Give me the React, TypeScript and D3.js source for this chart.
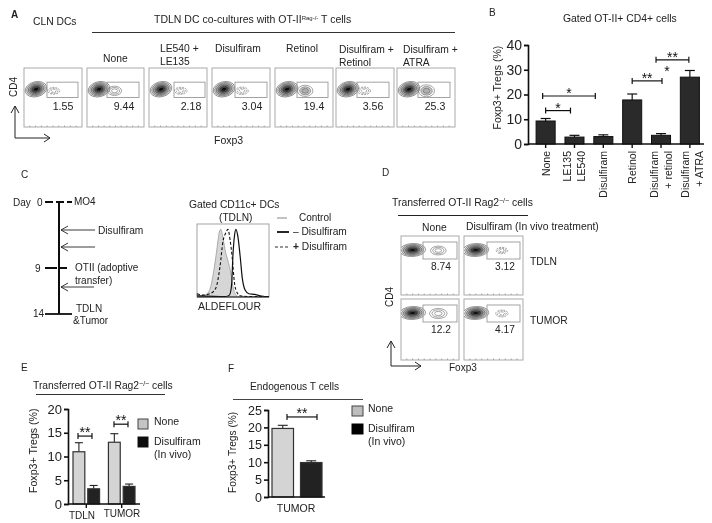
import React, { useEffect, useRef } from "react";
import * as d3 from "d3";

const FONT = "'Liberation Sans', Arial, sans-serif";
const INK = "#222";

// Panel A
const aTitles = [["CLN DCs"], ["None"], ["LE540 +", "LE135"], ["Disulfiram"], ["Retinol"], ["Disulfiram +", "Retinol"], ["Disulfiram +", "ATRA"]];
const aValues = ["1.55", "9.44", "2.18", "3.04", "19.4", "3.56", "25.3"];
const aPercent = [1.55, 9.44, 2.18, 3.04, 19.4, 3.56, 25.3];

// Panel B
const bCategories = [["None"], ["LE135", "LE540"], ["Disulfiram"], ["Retinol"], ["Disulfiram", "+ retinol"], ["Disulfiram", "+ ATRA"]];
const bValues = [9.3, 2.8, 3.0, 17.8, 3.5, 27.0];
const bUpper = [10.3, 3.5, 3.7, 20.2, 4.2, 29.7];

// Panel C histogram: [fluorescence, count]
const cControl = [[0, 4], [3, 1], [10, 2], [15, 5], [19, 14], [24, 42], [28, 72], [31, 94], [33, 98], [36, 86], [39, 68], [43, 52], [47, 34], [50, 14], [53, 4], [57, 0], [100, 0]];
const cMinus = [[0, 1], [40, 0], [45, 2], [48, 16], [50, 62], [52, 88], [54, 98], [57, 86], [60, 58], [63, 26], [67, 9], [72, 4], [80, 3], [88, 1], [94, 0], [100, 0]];
const cPlus = [[0, 4], [8, 2], [18, 4], [26, 12], [32, 44], [36, 80], [40, 93], [43, 98], [46, 82], [49, 56], [52, 20], [56, 5], [60, 1], [70, 0], [100, 0]];

// Panel D
const dValues = [["8.74", "3.12"], ["12.2", "4.17"]];
const dPercent = [[8.74, 3.12], [12.2, 4.17]];
const dColumns = ["None", "Disulfiram (In vivo treatment)"];
const dRows = ["TDLN", "TUMOR"];

// Panel E
const eGroups = ["TDLN", "TUMOR"];
const eNone = [11.0, 13.0];
const eNoneUpper = [12.9, 14.8];
const eDisulfiram = [3.2, 3.7];
const eDisulfiramUpper = [3.9, 4.2];

// Panel F
const fValues = [19.7, 9.9];
const fUpper = [20.6, 10.4];

function Txt({ x, y, size = 10.5, anchor = "start", rotate, fill = INK, weight, children }: any) {
  return (
    <text x={x} y={y} fontSize={size} textAnchor={anchor} fill={fill} fontWeight={weight} fontFamily={FONT}
      transform={rotate !== undefined ? `rotate(${rotate} ${x} ${y})` : undefined}>{children}</text>
  );
}

function YAxis({ scale, x, values, size }: any) {
  const ref = useRef<SVGGElement>(null);
  useEffect(() => {
    const g = d3.select(ref.current!);
    g.call(d3.axisLeft(scale).tickValues(values).tickSize(4).tickPadding(2) as any);
    g.selectAll("path,line").attr("stroke", "#111").attr("stroke-width", 1.6);
    g.selectAll("text").attr("font-size", size).attr("font-family", FONT).attr("fill", INK);
  }, []);
  return <g ref={ref} transform={`translate(${x},0)`} />;
}

function Bracket({ x1, x2, y, stars, starDy = -1, cap = 3 }: any) {
  return (
    <g stroke="#111" strokeWidth={1.2}>
      <line x1={x1} x2={x2} y1={y} y2={y} />
      <line x1={x1} x2={x1} y1={y - cap} y2={y + cap} />
      <line x1={x2} x2={x2} y1={y - cap} y2={y + cap} />
      <text x={(x1 + x2) / 2} y={y + starDy + 3} stroke="none" fill="#111" fontSize={14} textAnchor="middle" fontFamily={FONT}>{stars}</text>
    </g>
  );
}

function Arrows({ x, top, bottom, right }: any) {
  return (
    <g fill="none" stroke="#222" strokeWidth={1}>
      <polyline points={`${x},${top} ${x},${bottom} ${right},${bottom}`} />
      <polyline points={`${x - 4},${top + 7} ${x},${top} ${x + 4},${top + 7}`} />
      <polyline points={`${right - 6},${bottom - 4} ${right},${bottom} ${right - 6},${bottom + 4}`} />
    </g>
  );
}

const ringSizes = [1, 0.86, 0.72, 0.56, 0.4, 0.24];
const ringFills = ["#fff", "#d8d8d8", "#a8a8a8", "#777", "#3a3a3a", "#111"];

function FlowPlot({ box, gate, main, percent, label, labelPos, labelSize = 10.6, mainRx, mainRy, tilt = -14, cloudCentered = false, id }: any) {
  const [x0, y0, x1, y1] = box;
  const sx = d3.scaleLinear().domain([0, 1]).range([x0, x1]);
  const sy = d3.scaleLinear().domain([0, 1]).range([y0, y1]);
  const gx = sx(gate[0]), gx2 = sx(gate[1]), gy = sy(gate[2]), gy2 = sy(gate[3]);
  const root = Math.sqrt(percent);
  const crx = cloudCentered ? 2.5 + 1.8 * root : 5.5 + 0.5 * root;
  const cry = cloudCentered ? 1.2 + 1.1 * root : 2.5 + 0.7 * root;
  const cx = cloudCentered ? gx + (gx2 - gx) * 0.45 : gx + crx + 0.5;
  const cy = (gy + gy2) / 2 + (cloudCentered ? 0 : 1);
  const mcx = sx(main[0]), mcy = sy(main[1]);
  return (
    <g>
      <clipPath id={id}><rect x={x0} y={y0} width={x1 - x0} height={y1 - y0} /></clipPath>
      <rect x={x0} y={y0} width={x1 - x0} height={y1 - y0} fill="#fff" stroke="#aaa" strokeWidth={1} />
      {d3.range(0.1, 1, 0.1).map((t, i) => (
        <line key={i} x1={sx(t)} x2={sx(t)} y1={y1} y2={y1 - 1.5} stroke="#888" strokeWidth={0.7} />
      ))}
      <g clipPath={`url(#${id})`}>
        {ringSizes.map((r, i) => (
          <ellipse key={i} cx={mcx} cy={mcy} rx={mainRx * r} ry={mainRy * r}
            transform={`rotate(${tilt} ${mcx} ${mcy})`} fill={ringFills[i]} stroke="#555" strokeWidth={0.6} />
        ))}
      </g>
      <rect x={gx} y={gy} width={gx2 - gx} height={gy2 - gy} fill="none" stroke="#999" strokeWidth={0.9} />
      {[1, 0.72, 0.42].map((r, i) => (
        <ellipse key={i} cx={cx} cy={cy} rx={crx * r} ry={cry * r} fill={percent > 15 && i > 0 ? "#999" : "none"} fillOpacity={0.55}
          stroke="#666" strokeWidth={0.6} strokeDasharray={percent < 5 ? "2 1" : undefined} />
      ))}
      <Txt x={sx(labelPos[0])} y={sy(labelPos[1])} size={labelSize} anchor="middle">{label}</Txt>
    </g>
  );
}

function PanelA() {
  const boxes = [[24, 82], [87, 144], [149, 207], [212, 270], [275, 333], [336, 394], [397, 455]];
  const gates = [[47, 78], [107, 139], [174, 205], [235, 267], [297, 328], [357, 389], [418, 450]];
  const titleX = [33, 103, 160, 215, 286, 339, 403];
  const titleY = [[24], [62], [52, 65], [52], [52], [53, 66], [53, 66]];
  const labelX = [63, 124, 191, 252, 314, 373, 435];
  return (
    <g>
      <Txt x={11} y={18} size={10} weight="bold">A</Txt>
      <Txt x={33} y={25} size={10.3}>{aTitles[0][0]}</Txt>
      <Txt x={154} y={23} size={10.5}>TDLN DC co-cultures with OT-II<tspan fontSize={6} dy={-3}>Rag-/-</tspan><tspan dy={3}> T cells</tspan></Txt>
      <line x1={92} x2={455} y1={32.5} y2={32.5} stroke="#333" strokeWidth={1.2} />
      {aValues.map((v, i) => {
        const [x0, x1] = boxes[i];
        const w = x1 - x0;
        return (
          <g key={i}>
            {i > 0 && aTitles[i].map((t, j) => <Txt key={j} x={titleX[i]} y={titleY[i][j]} size={10.3}>{t}</Txt>)}
            <FlowPlot id={`a${i}`} box={[x0, 68, x1, 127]} gate={[(gates[i][0] - x0) / w, (gates[i][1] - x0) / w, 0.24, 0.5]}
              main={[(x0 + 12 - x0) / w, 0.36]} mainRx={11} mainRy={7.5} percent={aPercent[i]}
              label={v} labelPos={[(labelX[i] - x0) / w, 0.72]} />
          </g>
        );
      })}
      <Txt x={17} y={97} size={10} rotate={-90}>CD4</Txt>
      <Arrows x={15} top={106} bottom={138} right={50} />
      <Txt x={214} y={144} size={10.5}>Foxp3</Txt>
    </g>
  );
}

function PanelB() {
  const x = d3.scaleBand().domain(bValues.map((_, i) => String(i))).range([531.5, 704]).paddingInner(0.34).paddingOuter(0.16);
  const y = d3.scaleLinear().domain([0, 40]).range([144, 45]);
  const cx = (i: number) => x(String(i))! + x.bandwidth() / 2;
  return (
    <g>
      <Txt x={489} y={16} size={10}>B</Txt>
      <Txt x={563} y={22} size={10.4}>Gated OT-II+ CD4+ cells</Txt>
      <Txt x={501} y={129.5} size={10.5} rotate={-90}>Foxp3+ Tregs (%)</Txt>
      {bValues.map((v, i) => (
        <g key={i}>
          <line x1={cx(i)} x2={cx(i)} y1={y(v)} y2={y(bUpper[i])} stroke="#111" strokeWidth={1.2} />
          <line x1={cx(i) - 5} x2={cx(i) + 5} y1={y(bUpper[i])} y2={y(bUpper[i])} stroke="#111" strokeWidth={1.2} />
          <rect x={x(String(i))} y={y(v)} width={x.bandwidth()} height={y(0) - y(v)} fill="#2a2a2a" stroke="#111" />
          <line x1={cx(i)} x2={cx(i)} y1={144} y2={148} stroke="#111" strokeWidth={1.4} />
        </g>
      ))}
      <line x1={528} x2={704} y1={144} y2={144} stroke="#111" strokeWidth={1.6} />
      <YAxis scale={y} x={528} values={[0, 10, 20, 30, 40]} size={14} />
      {bCategories.map((c, i) => (
        <g key={i}>
          {c.map((t, j) => {
            const px = cx(i) + 4 + (c.length === 2 ? (j === 0 ? -7 : 7) : 0) + (i === 5 ? 2 : 0);
            return <Txt key={j} x={px} y={151} size={10.5} anchor="end" rotate={-90}>{t}</Txt>;
          })}
        </g>
      ))}
      <Bracket x1={cx(0) - 3} x2={cx(2) - 8} y={y(19.4)} stars="*" />
      <Bracket x1={cx(0)} x2={cx(1) - 4} y={y(13.5)} stars="*" />
      <Bracket x1={cx(3)} x2={cx(4) + 1} y={y(25.5)} stars="**" />
      <Bracket x1={cx(4) - 5} x2={cx(5) - 1} y={y(34)} stars="**" />
      <text x={667} y={76} fontSize={14} textAnchor="middle" fontFamily={FONT} fill="#111">*</text>
    </g>
  );
}

function PanelC() {
  const x = d3.scaleLinear().domain([0, 100]).range([197, 269]);
  const y = d3.scaleLinear().domain([0, 100]).range([296.5, 228]);
  const line = d3.line<number[]>().x(d => x(d[0])).y(d => y(d[1])).curve(d3.curveMonotoneX);
  const area = d3.area<number[]>().x(d => x(d[0])).y0(y(0)).y1(d => y(d[1])).curve(d3.curveMonotoneX);
  return (
    <g>
      <Txt x={21} y={178} size={10}>C</Txt>
      <line x1={59} x2={59} y1={202} y2={314} stroke="#111" strokeWidth={2} />
      <line x1={45} x2={72} y1={202} y2={202} stroke="#111" strokeWidth={1.8} strokeDasharray="8 3" />
      <line x1={45} x2={67} y1={268} y2={268} stroke="#111" strokeWidth={1.8} strokeDasharray="12 3" />
      <line x1={45} x2={72} y1={314} y2={314} stroke="#111" strokeWidth={1.8} />
      {[[230, 95], [247, 95], [287, 94]].map(([yy, right], i) => (
        <g key={i} fill="none" stroke="#222" strokeWidth={0.9}>
          <line x1={61} x2={right} y1={yy} y2={yy} />
          <polyline points={`${68},${yy - 4} ${61},${yy} ${68},${yy + 4}`} />
        </g>
      ))}
      <Txt x={13} y={206} size={10}>Day</Txt>
      <Txt x={37} y={206} size={10}>0</Txt>
      <Txt x={74} y={205} size={10}>MO4</Txt>
      <Txt x={98} y={234} size={10.2}>Disulfiram</Txt>
      <Txt x={35} y={272} size={10}>9</Txt>
      <Txt x={75} y={271} size={10}>OTII (adoptive</Txt>
      <Txt x={75} y={284} size={10}>transfer)</Txt>
      <Txt x={33} y={317} size={10}>14</Txt>
      <Txt x={76} y={312} size={10}>TDLN</Txt>
      <Txt x={73} y={324} size={10}>&amp;Tumor</Txt>

      <Txt x={189} y={208} size={10.3}>Gated CD11c+ DCs</Txt>
      <Txt x={219} y={221} size={10.2}>(TDLN)</Txt>
      <rect x={197} y={224} width={72} height={73} fill="#fff" stroke="#999" strokeWidth={0.9} />
      <path d={area(cControl as any)!} fill="#d6d6d6" stroke="#999" strokeWidth={0.8} />
      <path d={line(cPlus as any)!} fill="none" stroke="#111" strokeWidth={1.1} strokeDasharray="3 2" />
      <path d={line(cMinus as any)!} fill="none" stroke="#111" strokeWidth={1.2} />
      <line x1={197} x2={269} y1={297} y2={297} stroke="#222" strokeWidth={1} />
      <Txt x={198} y={310} size={10.5}>ALDEFLOUR</Txt>
      <line x1={277} x2={287} y1={218} y2={218} stroke="#aaa" strokeWidth={1.4} />
      <Txt x={299} y={221} size={10}>Control</Txt>
      <line x1={277} x2={289} y1={232} y2={232} stroke="#111" strokeWidth={1.8} />
      <Txt x={293} y={235} size={10.2}>– Disulfiram</Txt>
      <line x1={275} x2={289} y1={247} y2={247} stroke="#111" strokeWidth={0.9} strokeDasharray="3 2" />
      <Txt x={293} y={250} size={10.2}><tspan fontWeight="bold">+</tspan> Disulfiram</Txt>
    </g>
  );
}

function PanelD() {
  const cols = [[401, 459], [464, 523]];
  const rows = [[236, 295], [299, 360]];
  const gateX = [[423, 457], [487, 520]];
  const gateY = [[242, 259], [305, 322]];
  const labelCol = [441, 505];
  return (
    <g>
      <Txt x={382} y={176} size={10}>D</Txt>
      <Txt x={392} y={206} size={10.4}>Transferred OT-II Rag2<tspan fontSize={7} dy={-3}>−/−</tspan><tspan dy={3}> cells</tspan></Txt>
      <line x1={398} x2={528} y1={215.5} y2={215.5} stroke="#222" strokeWidth={1.1} />
      <Txt x={422} y={231} size={10.3}>{dColumns[0]}</Txt>
      <Txt x={466} y={230} size={10.4}>{dColumns[1]}</Txt>
      {rows.map(([y0, y1], r) => cols.map(([x0, x1], c) => {
        const w = x1 - x0, h = y1 - y0;
        return (
          <FlowPlot key={`${r}-${c}`} id={`d${r}${c}`} box={[x0, y0, x1, y1]}
            gate={[(gateX[c][0] - x0) / w, (gateX[c][1] - x0) / w, (gateY[r][0] - y0) / h, (gateY[r][1] - y0) / h]}
            main={[0.2, (gateY[r][0] + 8 - y0) / h]} mainRx={13} mainRy={6.5} tilt={-3} percent={dPercent[r][c]} cloudCentered
            label={dValues[r][c]} labelSize={10.2} labelPos={[(labelCol[c] - x0) / w, (gateY[r][1] + 11 - y0) / h]} />
        );
      }))}
      <Txt x={530} y={265} size={10.3}>{dRows[0]}</Txt>
      <Txt x={530} y={324} size={10.3}>{dRows[1]}</Txt>
      <Txt x={393} y={307} size={10} rotate={-90}>CD4</Txt>
      <Arrows x={391} top={341} bottom={366} right={421} />
      <Txt x={449} y={371} size={10}>Foxp3</Txt>
    </g>
  );
}

function PanelE() {
  const y = d3.scaleLinear().domain([0, 20]).range([504, 409]);
  const groupX = d3.scaleBand().domain(eGroups).range([73, 135]).paddingInner(0.25).paddingOuter(0);
  const sub = d3.scaleBand().domain(["None", "Disulfiram"]).range([0, groupX.bandwidth()]).paddingInner(0.2).paddingOuter(0);
  const series = [
    { name: "None", values: eNone, upper: eNoneUpper, fill: "#d4d4d4" },
    { name: "Disulfiram", values: eDisulfiram, upper: eDisulfiramUpper, fill: "#242424" },
  ];
  return (
    <g>
      <Txt x={21} y={371} size={10}>E</Txt>
      <Txt x={33} y={389} size={10.3}>Transferred OT-II Rag2<tspan fontSize={7} dy={-3}>−/−</tspan><tspan dy={3}> cells</tspan></Txt>
      <line x1={36} x2={165} y1={394.5} y2={394.5} stroke="#333" strokeWidth={1.1} />
      <Txt x={37} y={493} size={10.6} rotate={-90}>Foxp3+ Tregs (%)</Txt>
      {eGroups.map((g, gi) => (
        <g key={g}>
          {series.map(s => {
            const bx = groupX(g)! + sub(s.name)!;
            const c = bx + sub.bandwidth() / 2;
            return (
              <g key={s.name}>
                <line x1={c} x2={c} y1={y(s.values[gi])} y2={y(s.upper[gi])} stroke="#222" strokeWidth={1.1} />
                <line x1={c - 4} x2={c + 4} y1={y(s.upper[gi])} y2={y(s.upper[gi])} stroke="#222" strokeWidth={1.1} />
                <rect x={bx} y={y(s.values[gi])} width={sub.bandwidth()} height={y(0) - y(s.values[gi])} fill={s.fill} stroke="#333" strokeWidth={1.2} />
              </g>
            );
          })}
          <line x1={groupX(g)! + groupX.bandwidth() / 2} x2={groupX(g)! + groupX.bandwidth() / 2} y1={504} y2={508} stroke="#111" strokeWidth={1.4} />
        </g>
      ))}
      <line x1={68} x2={140} y1={504} y2={504} stroke="#111" strokeWidth={1.6} />
      <YAxis scale={y} x={68} values={[0, 5, 10, 15, 20]} size={13} />
      <Txt x={82} y={519} size={10} anchor="middle">{eGroups[0]}</Txt>
      <Txt x={122} y={517} size={10} anchor="middle">{eGroups[1]}</Txt>
      <Bracket x1={78} x2={92} y={y(14.3)} stars="**" starDy={-2} />
      <Bracket x1={114} x2={128} y={y(16.8)} stars="**" starDy={-2} />
      <rect x={138} y={419} width={10} height={10} fill="#c4c4c4" stroke="#444" />
      <rect x={138} y={437} width={10} height={10} fill="#111" stroke="#111" />
      <Txt x={154} y={425} size={10.5}>None</Txt>
      <Txt x={154} y={445} size={10.5}>Disulfiram</Txt>
      <Txt x={154} y={458} size={10.5}>(In vivo)</Txt>
    </g>
  );
}

function PanelF() {
  const y = d3.scaleLinear().domain([0, 25]).range([497, 410]);
  const x = d3.scaleBand().domain(["None", "Disulfiram"]).range([272, 322]).paddingInner(0.245).paddingOuter(0);
  const names = x.domain();
  const fills = ["#d4d4d4", "#242424"];
  return (
    <g>
      <Txt x={228} y={372} size={10}>F</Txt>
      <Txt x={250} y={390} size={10.2}>Endogenous T cells</Txt>
      <line x1={233} x2={363} y1={399.5} y2={399.5} stroke="#444" strokeWidth={1.1} />
      <Txt x={236} y={493} size={10.2} rotate={-90}>Foxp3+ Tregs (%)</Txt>
      {fValues.map((v, i) => {
        const c = x(names[i])! + x.bandwidth() / 2;
        return (
          <g key={i}>
            <line x1={c} x2={c} y1={y(v)} y2={y(fUpper[i])} stroke="#222" strokeWidth={1.1} />
            <line x1={c - 5} x2={c + 5} y1={y(fUpper[i])} y2={y(fUpper[i])} stroke="#222" strokeWidth={1.1} />
            <rect x={x(names[i])} y={y(v)} width={x.bandwidth()} height={y(0) - y(v)} fill={fills[i]} stroke="#333" strokeWidth={1.2} />
          </g>
        );
      })}
      <line x1={268} x2={325} y1={497} y2={497} stroke="#111" strokeWidth={1.6} />
      <YAxis scale={y} x={268} values={[0, 5, 10, 15, 20, 25]} size={12.5} />
      <Txt x={296} y={512} size={10.5} anchor="middle">TUMOR</Txt>
      <Bracket x1={287} x2={317} y={y(23)} stars="**" starDy={-2} />
      <rect x={352} y={406} width={11} height={10} fill="#bdbdbd" stroke="#444" />
      <rect x={352} y={424} width={11} height={10} fill="#000" stroke="#000" />
      <Txt x={368} y={412} size={10.5}>None</Txt>
      <Txt x={368} y={432} size={10.5}>Disulfiram</Txt>
      <Txt x={368} y={445} size={10.5}>(In vivo)</Txt>
    </g>
  );
}

export default function App() {
  return (
    <svg width={712} height={523} viewBox="0 0 712 523" style={{ position: "absolute", left: 0, top: 0, display: "block", background: "#fff" }}>
      <defs>
        <filter id="soft" x="0" y="0" width="100%" height="100%"><feGaussianBlur stdDeviation="0.35" /></filter>
      </defs>
      <g filter="url(#soft)">
        <PanelA />
        <PanelB />
        <PanelC />
        <PanelD />
        <PanelE />
        <PanelF />
      </g>
    </svg>
  );
}
